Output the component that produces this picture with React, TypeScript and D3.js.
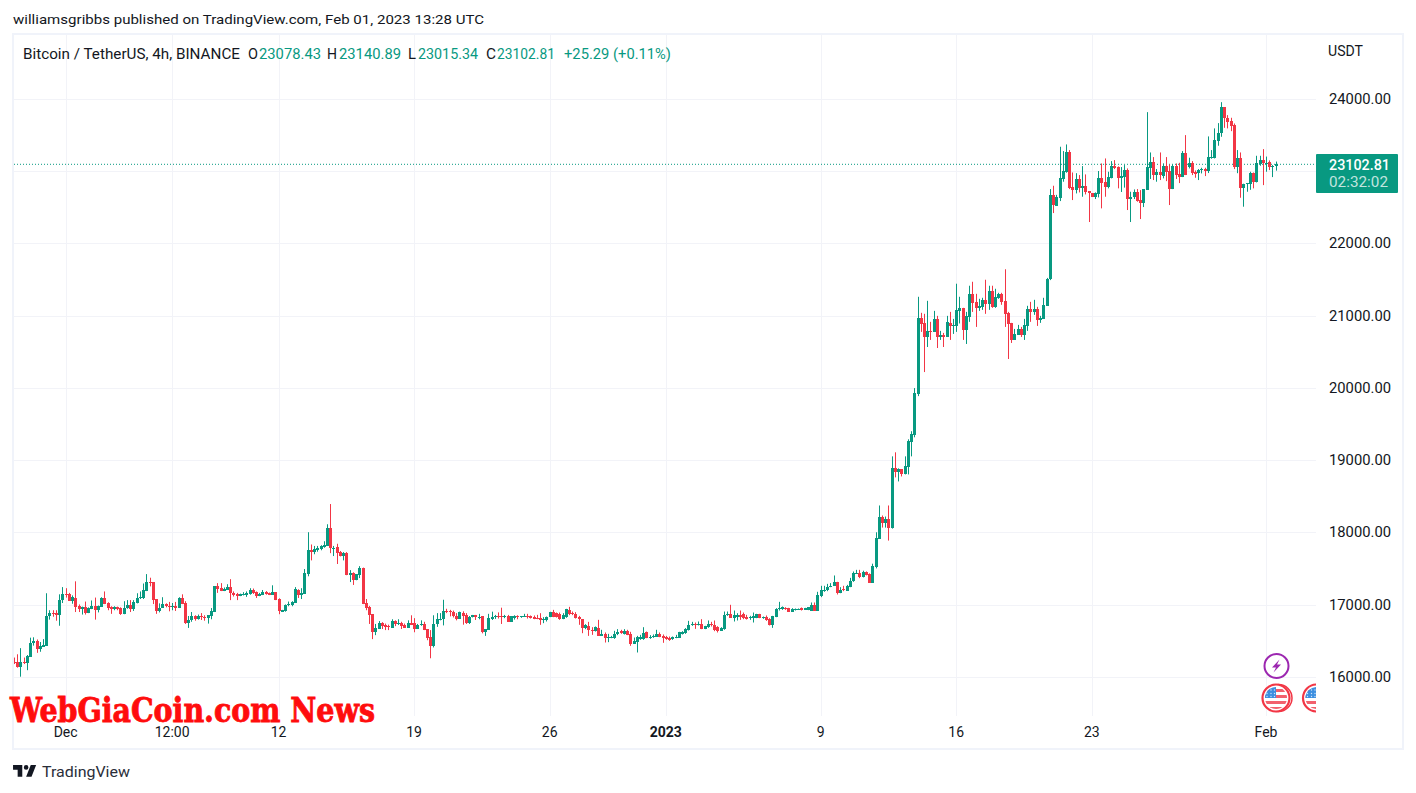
import React from "react";
import * as d3 from "d3";

const opens = [
16220,16220,16150,16220,16200,16285,16470,16505,16395,16425,
16440,16850,16885,16885,16860,17070,17160,17150,17060,17105,
16985,16945,16980,16890,16945,16995,16930,16980,17100,17025,
16975,16940,16975,16955,16880,16955,17000,16950,17035,17095,
17100,17200,17320,17320,17080,16915,16965,17010,16995,16985,
16985,16960,17100,17025,16750,16790,16850,16810,16850,16840,
16825,16850,16905,17265,17235,17200,17210,17250,17175,17155,
17130,17145,17145,17155,17205,17180,17130,17140,17180,17165,
17145,17180,17085,16905,16915,17000,17000,17030,17205,17140,
17155,17430,17760,17730,17760,17775,17805,17820,18065,17790,
17800,17735,17680,17720,17415,17440,17345,17415,17515,17030,
16975,16875,16625,16670,16750,16720,16710,16685,16780,16740,
16750,16730,16690,16750,16750,16670,16725,16740,16670,16555,
16435,16740,16810,
16810,16925,16915,16905,16850,16810,16890,16870,16750,16830,
16865,16830,16845,16630,16660,16815,16835,16850,16850,16835,
16850,16770,16825,16850,16830,16840,16853,16848,16838,16825,
16825,16788,16788,16834,16912,16885,16880,16811,16838,16935,
16889,16880,16843,16806,16682,16705,16663,16649,16686,16575,
16603,16552,16548,16543,16594,16640,16603,16649,16603,16465,
16492,16529,16525,16622,16548,16557,16562,16603,16580,16557,
16552,16525,16552,16548,16603,16612,16659,16719,16742,16728,
16746,16672,16695,16742,16728,16695,16649,16672,16857,16880,
16825,16838,16866,16875,16843,16825,16829,16825,16880,16825,
16843,16806,16728,16834,16940,16945,16963,16963,16912,16935,
16940,16954,16935,16931,16926,17009,16926,17120,17194,17203,
17249,17268,17314,17175,17222,17198,17249,17328,17443,17452,
17393,17454,17430,17310,17532,17917,18227,18134,18199,18074,
18894,18838,18880,18810,18907,19255,19352,19921,20977,20908,
20713,20797,20783,20963,20713,20741,20713,20908,20866,20870,
21070,21116,20810,20991,21310,21199,21116,21130,21227,21171,
21352,21130,21255,21310,21213,21047,20908,20672,20741,20824,
20741,20866,21102,21060,21102,20949,20963,21144,21510,22677,
22530,22640,22898,23000,23272,22783,22746,22898,22774,22802,
22728,22705,22650,22686,22908,22852,22788,22917,23078,23065,
22917,22922,23023,22622,22645,22718,22608,22562,22750,23055,
23129,22954,22990,22940,23078,23009,22760,23083,22968,22926,
23258,23060,23120,22990,22982,23018,23037,23009,23203,23194,
23429,23530,23894,23747,23700,23645,23069,23194,22779,22834,
22834,22982,22852,23106,23157,23120,23134,23065,23078.43];

const highs = [
16275,16320,16405,16275,16310,16550,16555,16525,16490,16530,
17165,16930,16930,16930,17150,17250,17235,17170,17135,17330,
17010,16980,17050,16970,17065,17105,16995,17110,17190,17040,
16985,16985,16980,16970,17055,17070,17070,17070,17165,17190,
17300,17430,17380,17320,17085,17025,17110,17025,17045,17030,
17045,17110,17150,17055,16850,16905,16860,16870,16890,16860,
16860,16960,17265,17305,17305,17245,17290,17360,17190,17170,
17160,17180,17190,17235,17230,17190,17170,17210,17195,17175,
17275,17180,17095,16935,17010,17050,17055,17250,17220,17235,
17500,18010,17840,17820,17820,17830,17885,18120,18400,17820,
17850,17750,17735,17735,17485,17455,17430,17540,17520,17085,
16990,16875,16740,16780,16765,16745,16730,16805,16790,16805,
16770,16745,16790,16860,16820,16740,16790,16770,16670,16655,
16860,16890,16890,
17075,16950,16935,16925,16890,16910,16915,16890,16850,16865,
16865,16880,16850,16670,16880,16910,16865,16900,16965,16865,
16865,16850,16860,16860,16850,16880,16880,16857,16857,16866,
16889,16834,16843,16908,16935,16898,16898,16889,16949,16977,
16912,16903,16852,16806,16737,16769,16695,16705,16797,16659,
16622,16603,16575,16645,16668,16659,16668,16659,16631,16552,
16575,16589,16695,16635,16585,16594,16659,16622,16594,16575,
16566,16566,16589,16631,16640,16682,16783,16769,16760,16774,
16806,16714,16788,16769,16788,16709,16695,16912,16912,17005,
16926,16889,16926,16898,16866,16852,16898,16880,16880,16843,
16857,16820,16852,16958,17046,16982,16972,16963,16958,16954,
16954,16968,16963,16968,17037,17037,17185,17268,17268,17295,
17305,17411,17323,17249,17268,17281,17378,17466,17489,17489,
17477,17467,17440,17574,18009,18380,18241,18227,18380,19060,
19116,18894,18880,19060,19296,19408,20005,21269,21047,21033,
21213,20922,21074,21005,20797,20769,21005,21060,20963,21450,
21269,21116,21060,21422,21477,21310,21241,21255,21505,21422,
21422,21380,21324,21324,21650,21060,20908,20824,20880,20852,
20963,21144,21199,21227,21130,21005,21255,21530,22760,22806,
22680,23346,23286,23378,23300,22990,22980,22954,23078,22963,
22728,22705,22714,23010,23115,23184,23000,23147,23161,23074,
23065,23092,23046,22723,22755,22760,22746,22760,23825,23267,
23203,23037,23267,23115,23203,23101,23101,23115,23124,23286,
23507,23194,23147,23018,23037,23055,23055,23489,23300,23600,
23673,23963,23894,23784,23747,23668,23300,23267,22834,22843,
23000,22990,23221,23221,23313,23210,23157,23092,23140.89];

const lows = [
16185,16135,16010,16185,16100,16285,16440,16340,16355,16425,
16440,16800,16840,16785,16715,17030,17105,17060,17020,16905,
16905,16870,16870,16890,16945,16800,16900,16975,17015,16930,
16880,16930,16930,16865,16875,16950,16905,16920,17025,17085,
17085,17195,17260,17015,16880,16900,16965,16970,16915,16930,
16920,16960,17015,16740,16685,16770,16785,16800,16795,16785,
16745,16805,16905,17170,17195,17195,17210,17070,17120,17070,
17125,17135,17115,17145,17155,17100,17125,17140,17145,17140,
17145,17070,16875,16905,16910,16985,16985,17030,17100,17085,
17155,17400,17620,17705,17740,17760,17795,17820,17720,17680,
17570,17675,17620,17415,17320,17280,17345,17375,17015,16930,
16740,16530,16585,16670,16670,16655,16655,16685,16710,16725,
16670,16685,16690,16725,16625,16670,16715,16655,16515,16265,
16415,16700,16790,
16720,16890,16845,16830,16790,16810,16730,16740,16740,16830,
16795,16805,16610,16575,16660,16795,16810,16815,16740,16820,
16770,16770,16800,16805,16825,16838,16815,16815,16806,16806,
16728,16751,16774,16834,16834,16829,16797,16806,16825,16862,
16862,16815,16728,16612,16668,16575,16589,16635,16575,16575,
16483,16488,16543,16534,16585,16603,16594,16585,16437,16465,
16345,16520,16520,16543,16534,16548,16562,16557,16479,16520,
16506,16520,16543,16548,16594,16603,16649,16714,16672,16719,
16668,16668,16686,16705,16640,16622,16645,16659,16852,16825,
16774,16788,16797,16806,16801,16797,16760,16820,16820,16811,
16783,16719,16686,16834,16926,16935,16935,16908,16908,16926,
16935,16926,16935,16931,16926,16922,16926,17111,17185,17194,
17249,17268,17148,17166,17194,17198,17249,17323,17434,17374,
17384,17412,17310,17310,17509,17917,18074,18074,17894,18060,
18769,18713,18782,18810,18810,19060,19324,19894,20783,20227,
20574,20672,20783,20560,20672,20574,20713,20672,20755,20783,
20900,20672,20616,20922,21060,20852,21074,21088,21033,21088,
21116,21116,21241,21158,20852,20408,20630,20672,20741,20713,
20672,20797,20922,21019,20866,20908,20963,21144,21500,22428,
22530,22594,22862,22986,22760,22608,22700,22714,22654,22686,
22304,22650,22622,22645,22493,22654,22770,22908,23037,22770,
22720,22780,22470,22304,22622,22585,22345,22511,22750,22900,
22885,22862,22885,22908,22870,22539,22760,22900,22843,22926,
22954,23046,22954,22917,22885,22977,22940,22982,23180,23184,
23360,23484,23608,23600,23562,23037,22980,22640,22516,22723,
22750,22770,22852,23083,22815,23000,23023,22926,23015.34];

const closes = [
16200,16150,16220,16210,16295,16470,16500,16395,16430,16445,
16850,16885,16880,16865,17070,17160,17140,17060,17110,16975,
16945,16980,16890,16955,16995,16930,16985,17100,17020,16955,
16940,16975,16950,16875,16960,17000,16950,17040,17100,17115,
17210,17320,17310,17070,16915,16965,17010,16985,16970,16995,
16965,17100,17015,16750,16790,16850,16810,16850,16830,16825,
16860,16915,17265,17220,17195,17225,17250,17175,17140,17130,
17155,17160,17175,17205,17165,17125,17150,17180,17155,17145,
17180,17070,16915,16930,17000,17015,17045,17220,17140,17165,
17445,17760,17735,17775,17785,17815,17830,18065,17790,17795,
17720,17680,17720,17415,17440,17345,17430,17515,17015,16960,
16860,16625,16680,16750,16710,16695,16695,16780,16740,16750,
16710,16690,16750,16725,16670,16730,16740,16655,16550,16435,
16740,16805,16815,
16920,16910,16905,16845,16810,16900,16855,16750,16835,16865,
16830,16835,16625,16670,16825,16835,16850,16845,16835,16855,
16770,16850,16850,16835,16850,16853,16838,16825,16815,16806,
16797,16806,16843,16908,16838,16838,16806,16857,16940,16871,
16871,16825,16806,16682,16719,16659,16654,16691,16575,16603,
16548,16566,16562,16599,16635,16612,16649,16589,16465,16506,
16562,16566,16612,16548,16566,16575,16603,16566,16543,16529,
16520,16557,16566,16622,16631,16668,16723,16742,16728,16746,
16672,16705,16742,16719,16654,16645,16686,16866,16880,16825,
16866,16866,16843,16829,16815,16838,16852,16880,16825,16834,
16788,16728,16852,16949,16958,16968,16945,16908,16945,16949,
16949,16935,16958,16968,17009,16926,17143,17212,17212,17249,
17268,17314,17175,17212,17203,17268,17341,17452,17452,17388,
17454,17421,17310,17546,17935,18227,18134,18199,18074,18894,
18838,18880,18810,18921,19269,19366,19935,20977,20894,20713,
20797,20787,20963,20713,20741,20713,20922,20866,20880,21088,
21116,20810,21005,21310,21185,21116,21144,21227,21171,21352,
21130,21269,21310,21199,21033,20894,20672,20755,20824,20741,
20880,21102,21060,21102,20949,20977,21158,21510,22677,22539,
22654,22908,23009,23272,22779,22746,22898,22774,22802,22718,
22705,22650,22705,22908,22843,22788,22926,23078,23050,22912,
22940,23023,22622,22650,22718,22594,22562,22760,23065,23129,
22954,22990,22954,23083,22990,22760,23083,22954,22926,23258,
22954,23115,22977,22972,23028,23037,23009,23203,23207,23438,
23535,23894,23738,23692,23632,23069,23194,22779,22834,22843,
22982,22862,23120,23157,23115,23124,23069,23078,23102.81];

const priceTicks = [16000, 17000, 18000, 19000, 20000, 21000, 22000, 23000, 24000];
const timeTickIndex = [16, 49, 82, 124, 166, 202, 250, 292, 334, 388];
const timeTickLabels = ["Dec", "12:00", "12", "19", "26", "2023", "9", "16", "23", "Feb"];
const lastPrice = 23102.81;

const GREEN = "#089981";
const RED = "#f23645";
const GRID = "#f2f3f8";
const FRAME = "#f0f3fa";
const TEXT = "#131722";
const FONT = "Roboto, 'Open Sans', sans-serif";

const y = d3.scaleLinear().domain([16000, 24000]).range([677.4, 99.5]);
const x = d3.scaleLinear().domain([0, 391]).range([14, 1275.7]);

function Flag({ cx, cy }: { cx: number; cy: number }) {
  const id = `flag${cx}`;
  const stripes = [-9, -3, 3, 9];
  return (
    <g>
      <defs>
        <clipPath id={id}><circle cx={cx} cy={cy} r={11} /></clipPath>
      </defs>
      <circle cx={cx + 2.5} cy={cy} r={13.5} fill="#fff" stroke={RED} strokeWidth={1.5} />
      <circle cx={cx} cy={cy} r={13.5} fill="#fff" stroke={RED} strokeWidth={2.2} />
      <g clipPath={`url(#${id})`}>
        <rect x={cx - 12} y={cy - 12} width={24} height={24} fill="#fff" />
        {stripes.map((s) => (
          <rect key={s} x={cx - 12} y={cy + s} width={24} height={3} fill="#f2606d" />
        ))}
        <rect x={cx - 12} y={cy - 12} width={12} height={12} fill="#3d8fe0" />
        {[-9, -5, -1.5].map((dx) =>
          [-8, -4.5, -1.5].map((dy) => (
            <circle key={`${dx}${dy}`} cx={cx + dx} cy={cy + dy} r={0.7} fill="#cfe3f8" />
          ))
        )}
      </g>
    </g>
  );
}

export default function App() {
  const plotLeft = 14;
  const plotRight = 1316;
  const n = closes.length;
  const legend: [string, number, string, number][] = [
    ["O", 248, TEXT, 10], ["23078.43", 259, GREEN, 62],
    ["H", 327, TEXT, 10], ["23140.89", 339, GREEN, 62],
    ["L", 408, TEXT, 8], ["23015.34", 418, GREEN, 60],
    ["C", 486, TEXT, 10], ["23102.81", 497, GREEN, 58],
    ["+25.29 (+0.11%)", 564, GREEN, 107],
  ];
  return (
    <svg
      width={1416}
      height={793}
      viewBox="0 0 1416 793"
      style={{ position: "absolute", left: 0, top: 0, display: "block", background: "#fff" }}
      fontFamily={FONT}
    >
      <defs>
        <clipPath id="plot"><rect x={plotLeft} y={35} width={plotRight - plotLeft} height={712} /></clipPath>
      </defs>
      <text x={13} y={24} fontSize={13.5} fill={TEXT} textLength={471} lengthAdjust="spacingAndGlyphs">
        williamsgribbs published on TradingView.com, Feb 01, 2023 13:28 UTC
      </text>
      <rect x={13} y={34} width={1390} height={715} fill="none" stroke={FRAME} strokeWidth={2} />

      {priceTicks.map((p) => (
        <line key={p} x1={plotLeft} x2={plotRight} y1={Math.floor(y(p)) + 0.5} y2={Math.floor(y(p)) + 0.5} stroke={GRID} />
      ))}
      {timeTickIndex.map((i) => (
        <line key={i} x1={Math.round(x(i)) + 0.5} x2={Math.round(x(i)) + 0.5} y1={35} y2={716} stroke={GRID} />
      ))}

      <line x1={plotLeft} x2={plotRight} y1={y(lastPrice)} y2={y(lastPrice)} stroke={GREEN} strokeWidth={1} strokeDasharray="1 2" />

      <g clipPath="url(#plot)">
        {d3.range(n).map((i) => {
          const cx = Math.round(x(i));
          const up = closes[i] >= opens[i];
          const col = up ? GREEN : RED;
          const top = Math.round(y(Math.max(opens[i], closes[i])));
          const bot = Math.round(y(Math.min(opens[i], closes[i])));
          return (
            <g key={i} fill={col}>
              <rect x={cx} y={y(highs[i])} width={1} height={Math.max(1, y(lows[i]) - y(highs[i]))} />
              <rect x={cx - 1} y={top} width={3} height={Math.max(1, bot - top)} />
            </g>
          );
        })}
      </g>

      <text x={23} y={59} fontSize={14} fill={TEXT} textLength={217} lengthAdjust="spacingAndGlyphs">
        Bitcoin / TetherUS, 4h, BINANCE
      </text>
      {legend.map(([t, lx, c, w]) => (
        <text key={t} x={lx} y={59} fontSize={14} fill={c} textLength={w} lengthAdjust="spacingAndGlyphs">{t}</text>
      ))}

      <text x={1328} y={56} fontSize={14} fill={TEXT} textLength={35} lengthAdjust="spacingAndGlyphs">USDT</text>
      {priceTicks.map((p) => (
        <text key={p} x={1329} y={y(p) + 4.5} fontSize={14} fill={TEXT} textLength={62} lengthAdjust="spacingAndGlyphs">{d3.format(".2f")(p)}</text>
      ))}

      <rect x={1316} y={154} width={82} height={39} rx={1} fill={GREEN} />
      <text x={1329} y={170} fontSize={14} fontWeight={500} fill="#fff" textLength={61} lengthAdjust="spacingAndGlyphs">{d3.format(".2f")(lastPrice)}</text>
      <text x={1329} y={187} fontSize={14} fill="#fff" fillOpacity={0.75} textLength={59} lengthAdjust="spacingAndGlyphs">02:32:02</text>

      <g clipPath="url(#plot)">
        <circle cx={1276.5} cy={666} r={12} fill="#fff" stroke="#9c27b0" strokeWidth={2} />
        <path d="M1279.5 659.5 L1272 667.5 L1276 667.5 L1273.5 672.5 L1281 664.5 L1277 664.5 Z" fill="#9c27b0" />
        <Flag cx={1276} cy={698} />
        <Flag cx={1316.5} cy={698} />
      </g>

      {timeTickIndex.map((i, k) => (
        <text
          key={i}
          x={x(i)}
          y={737}
          fontSize={14}
          textAnchor="middle"
          fontWeight={timeTickLabels[k] === "2023" ? 700 : 400}
          fill={TEXT}
        >
          {timeTickLabels[k]}
        </text>
      ))}

      <text
        x={10}
        y={722}
        fontFamily="'DejaVu Serif Condensed', 'DejaVu Serif', serif"
        fontWeight={700}
        fontSize={33}
        fill="#ff0d0d"
        stroke="#ff0d0d"
        strokeWidth={0.8}
        textLength={365}
        lengthAdjust="spacingAndGlyphs"
      >
        WebGiaCoin.com News
      </text>

      <path transform="translate(11.5 760.5) scale(0.77)" fill="#131722" d="M14 6H2v6h6v9h6V6Zm12 15h-7l6-15h7l-6 15Zm-7-9a3 3 0 1 0 0-6 3 3 0 0 0 0 6Z" />
      <text x={42} y={777} fontSize={15} fill="#2a2e39" textLength={88} lengthAdjust="spacingAndGlyphs">TradingView</text>
    </svg>
  );
}
